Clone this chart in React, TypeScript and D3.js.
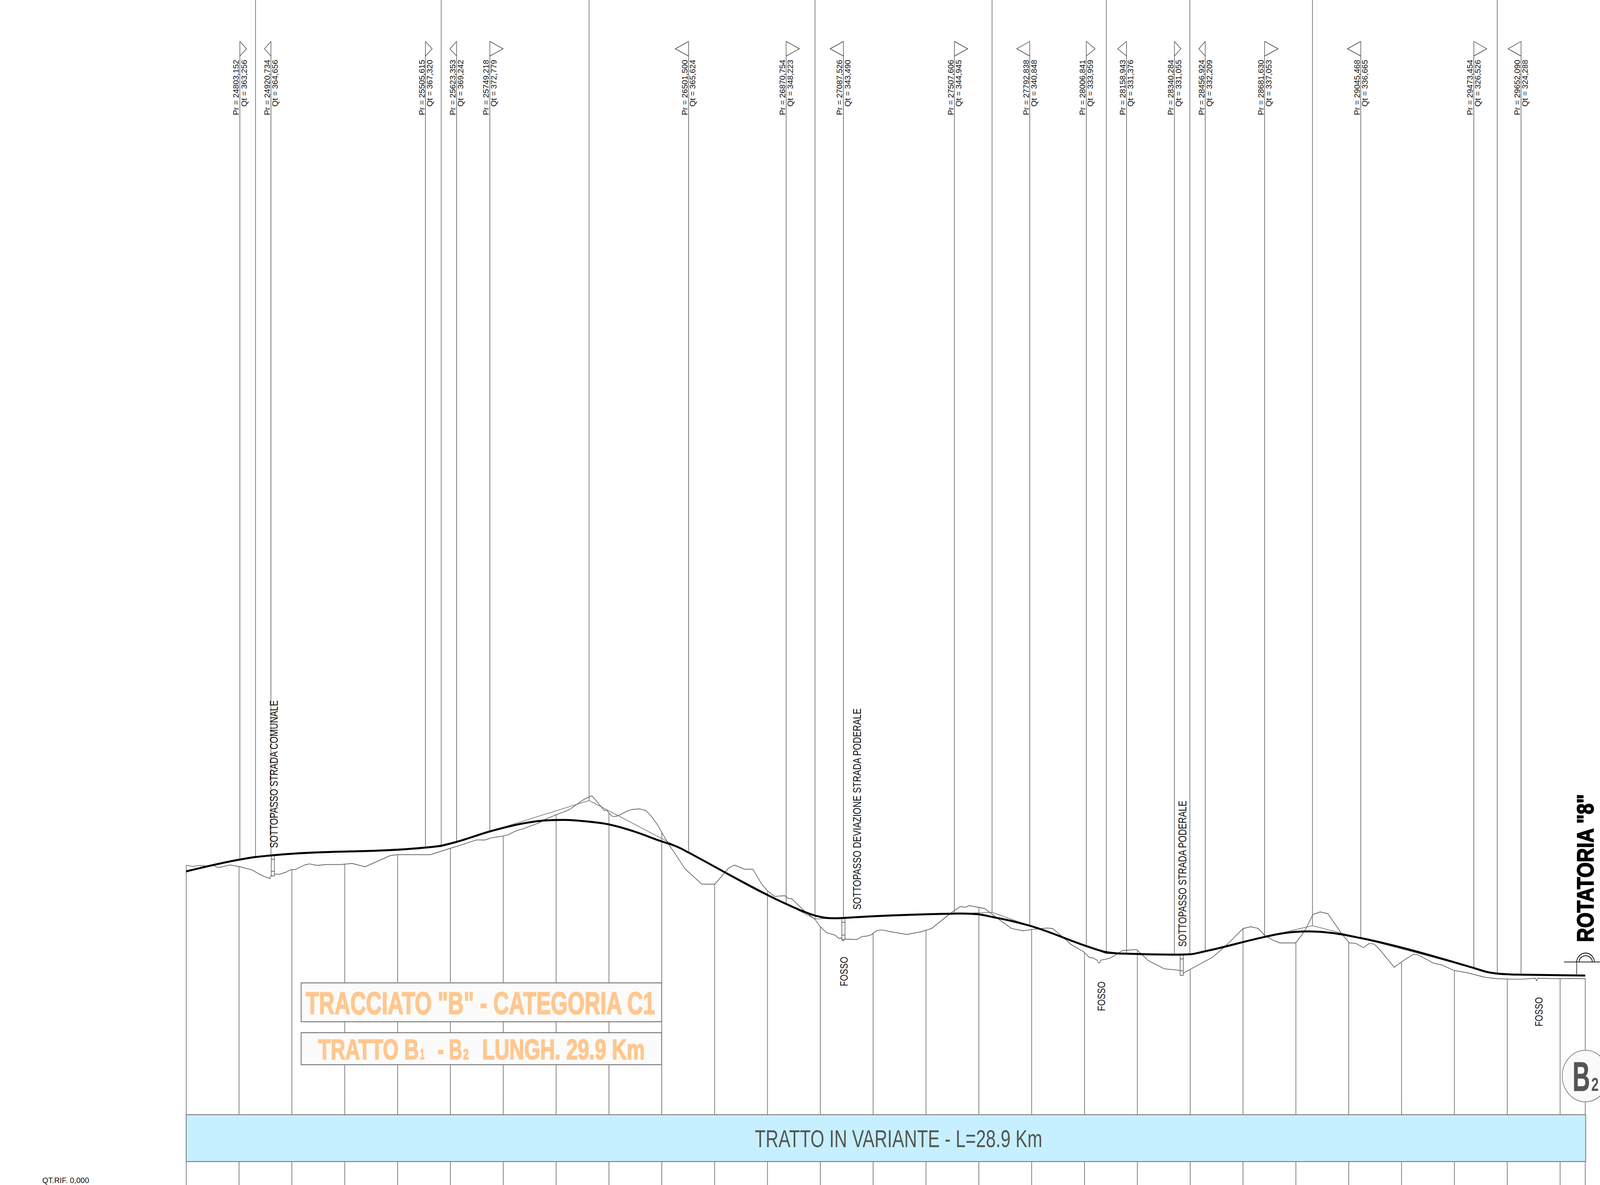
import React from "react";
import * as d3 from "d3";

const W = 4580, H = 3034;

const labelPr = [24803.152, 24920.734, 25505.615, 25623.353, 25749.218, 26501.5, 26870.754, 27087.526, 27507.606, 27792.838, 28006.841, 28158.943, 28340.284, 28456.924, 28681.63, 29045.468, 29473.454, 29652.09];
const labelQt = [363.256, 364.656, 367.32, 369.242, 372.779, 365.624, 348.223, 343.49, 344.945, 340.848, 333.959, 331.376, 331.055, 332.209, 337.053, 336.665, 326.526, 324.288];
const triangleDepth = [19, 18.5, 19, 19, 38, 38, 38, 38, 38, 37.5, 25, 25, 18.5, 18.5, 38.5, 38, 37, 37];

// Intersection points of the tangents
const pviPr = [24862.5, 25565.2, 26125, 26980, 27650, 28082.7, 28398.7, 28862.8, 29562.2];
const pviQt = [364.28, 367.58, 383.25, 343.12, 345.37, 331.36, 330.96, 340.88, 324.4];

// Design line (thick)
const designPr = [24600, 24803.152, 24862.5, 24920.734, 25505.615, 25565, 25623.353, 25749.218, 25878.6, 25962.9, 26030.4, 26114.7, 26199, 26300.2, 26384.6, 26468.9, 26501.5, 26870.754, 26932.7, 26979.7, 27033.9, 27067.6, 27087.526, 27507.606, 27538.1, 27597.1, 27656.2, 27723.6, 27792.838, 28006.841, 28044.1, 28077.8, 28120, 28158.943, 28340.284, 28398.3, 28456.924, 28681.63, 28741.5, 28796.2, 28850.8, 28905.5, 28969.2, 29045.468, 29473.454, 29524.7, 29562.9, 29615.7, 29652.09, 29895.3];
const designQt = [359.25, 363.256, 364.1, 364.656, 367.32, 367.95, 369.242, 372.779, 375.56, 376.52, 376.67, 376.17, 375.16, 372.63, 369.85, 367.16, 365.624, 348.223, 345.8, 344.29, 343.43, 343.38, 343.49, 344.945, 344.98, 344.73, 343.72, 342.46, 340.848, 333.959, 332.84, 331.98, 331.53, 331.376, 331.055, 331.17, 332.209, 337.053, 338.15, 338.74, 338.92, 338.68, 337.97, 336.665, 326.526, 325.16, 324.63, 324.35, 324.288, 323.98];

// Ground profile
const terrainPr = [24600, 24623.9, 24653.4, 24682.9, 24708.2, 24713.3, 24727.6, 24765.5, 24801, 24847.3, 24876.9, 24898, 24917.3, 24922.4, 24933.4, 24952.8, 24978, 24996.6, 25011.8, 25049.7, 25066.6, 25096.1, 25129.8, 25184.6, 25228.5, 25277.4, 25372.7, 25399.7, 25524.5, 25600.4, 25627.4, 25699.1, 25730.3, 25754, 25800.3, 25818.8, 25842.4, 25878.6, 25912.3, 25937.6, 25954.5, 26000.9, 26043, 26051.5, 26076.8, 26108, 26135.8, 26165.3, 26180.5, 26192.3, 26203.3, 26214.2, 26228.6, 26245.4, 26266.5, 26287.6, 26317.1, 26331.5, 26339.9, 26363.5, 26384.6, 26399.8, 26426.7, 26452, 26488.3, 26551.6, 26601.3, 26641.8, 26652.8, 26675.5, 26713.5, 26744.7, 26778.4, 26800.3, 26827.3, 26865.3, 26877.9, 26892.3, 26942.8, 26979.7, 27000.2, 27023.8, 27055, 27070.2, 27080.3, 27086.2, 27090.4, 27128.4, 27139.3, 27158.7, 27177.3, 27194.1, 27200.8, 27213.4, 27226.1, 27238.7, 27259.8, 27327.3, 27379.6, 27421.7, 27491.7, 27529.7, 27550.8, 27563.4, 27622.4, 27668.8, 27723.6, 27768.3, 27799.5, 27858.6, 27879.7, 27926, 27947.1, 27997.7, 28018.8, 28031.5, 28048.3, 28052.5, 28058.4, 28061, 28094.7, 28120, 28143.6, 28197.6, 28239.7, 28301.3, 28362.9, 28374.7, 28484.3, 28523, 28541.2, 28600.4, 28629.5, 28657.8, 28682.4, 28709.7, 28739.7, 28798.9, 28823.5, 28839.9, 28864.5, 28891.8, 28920.9, 28975.6, 29002.9, 29026.6, 29055.7, 29078.5, 29096.7, 29119.4, 29172.3, 29201.4, 29242.4, 29260.6, 29319.8, 29353.5, 29397.2, 29451.8, 29515.6, 29561.1, 29599.3, 29652.2, 29706.8, 29711.3, 29715.9, 29797.9, 29843.4, 29895.3];
const terrainQt = [361.32, 360.92, 361.27, 361.02, 361.22, 360.71, 360.61, 361.42, 360.87, 359.8, 358.34, 357.42, 356.87, 358.08, 358.34, 358.28, 358.99, 359.85, 359.85, 361.47, 361.78, 361.27, 361.57, 361.57, 361.93, 360.81, 364.61, 364.91, 364.91, 367.09, 367.8, 369.92, 369.87, 370.58, 371.24, 371.64, 372.76, 373.79, 374.9, 375.77, 376.68, 378.45, 379.91, 380.22, 381.84, 383.76, 384.87, 381.74, 379.97, 379.86, 378.7, 377.79, 377.94, 378.55, 379.56, 380.22, 380.42, 380.01, 379.91, 377.59, 374.9, 372.48, 368.33, 365.04, 360.08, 354.92, 354.92, 359.22, 360.38, 361.39, 359.98, 359.98, 354.92, 352.64, 350.77, 351.02, 350.11, 349.96, 345.56, 343.03, 340.5, 338.47, 337.71, 336.55, 336.7, 335.69, 336.35, 336.2, 336.2, 337.21, 337.36, 337.82, 338.41, 339.17, 339.37, 339.37, 338.92, 337.9, 338.76, 339.93, 344.99, 347.31, 347.11, 347.67, 346.66, 343.47, 339.93, 339.12, 339.57, 340.08, 339.88, 336.38, 334.61, 331.98, 330.06, 329.96, 329.15, 328.29, 328.29, 329.15, 329.81, 331.07, 332.44, 332.79, 329.15, 326.27, 325.71, 324.85, 330.16, 333.13, 334.61, 339.92, 340.51, 339.92, 337.56, 336.08, 335.02, 335.02, 337.85, 340.21, 344.64, 345.53, 344.94, 337.85, 335.02, 334.9, 333.43, 334.9, 334.61, 332.54, 326.76, 328.7, 331.07, 331.07, 328.23, 327.52, 325.75, 324.87, 323.39, 322.92, 322.8, 322.74, 323.09, 322.21, 323.09, 322.92, 322.98, 322.92];

const gridStart = 24600, gridStep = 200, gridCount = 27, endPr = 29895.3;

// Structures: progressive, invert levels
const structurePr = [24928, 27087.5, 28368];
const structureTop = [364.8, 343.45, 331.05];
const structureBottom = [357.7, 336.1, 324.0];
const structureLabels = ["SOTTOPASSO STRADA COMUNALE", "SOTTOPASSO DEVIAZIONE STRADA PODERALE", "SOTTOPASSO STRADA PODERALE"];
const fossoLabels = ["FOSSO", "FOSSO", "FOSSO"];

const x = d3.scaleLinear().domain([24600, 29900]).range([533, 533 + 5300 * 0.7563]);
const y = d3.scaleLinear().domain([367.32, 324.288]).range([2170, 2495.4]);
const fmt = (v: number) => v.toFixed(3).replace(".", ",");

const FONT = "'Liberation Sans', Arial, sans-serif";
const GREY = "#666";
const ORANGE = "#FFC78F";

function VText({ px, py, len, size, children, fill = "#111", weight, stroke, sw }: any) {
  return (
    <text transform={`translate(${px},${py}) rotate(-90)`} fontFamily={FONT} fontSize={size} fontWeight={weight}
      fill={fill} stroke={stroke} strokeWidth={sw} textLength={len} lengthAdjust="spacingAndGlyphs">{children}</text>
  );
}

function Title({ px, py, len, size, children }: any) {
  return (
    <text x={px} y={py} fontFamily={FONT} fontSize={size} fontWeight={700} fill={ORANGE} stroke={ORANGE} strokeWidth={2.5}
      textLength={len} lengthAdjust="spacingAndGlyphs">{children}</text>
  );
}

export default function App() {
  const terrainY = (p: number) => {
    const i = Math.min(d3.bisectLeft(terrainPr, p), terrainPr.length - 1);
    if (i === 0) return terrainQt[0];
    const t = (p - terrainPr[i - 1]) / (terrainPr[i] - terrainPr[i - 1]);
    return terrainQt[i - 1] + Math.min(1, t) * (terrainQt[i] - terrainQt[i - 1]);
  };
  const gridPr = [...d3.range(gridCount).map(k => gridStart + k * gridStep), endPr];
  const line = d3.line<[number, number]>().x(d => x(d[0])).y(d => y(d[1]));
  const terrainPath = line(terrainPr.map((p, i) => [p, terrainQt[i]]))!;
  const designPath = d3.line<[number, number]>().x(d => x(d[0])).y(d => y(d[1])).curve(d3.curveMonotoneX)(designPr.map((p, i) => [p, designQt[i]]))!;
  const tangentPts = d3.zip(
    [...labelPr, ...pviPr], [...labelQt, ...pviQt]
  ).map(d => d as [number, number]).sort((a, b) => a[0] - b[0]);
  const tangentPath = line(tangentPts)!;

  return (
    <svg width={window.innerWidth} height={window.innerHeight} viewBox={`0 0 ${W} ${H}`} preserveAspectRatio="none"
      style={{ position: "absolute", left: 0, top: 0, background: "#fff", display: "block" }}>
      {/* ground grid lines */}
      {gridPr.map((p, i) => (
        <line key={i} x1={x(p)} x2={x(p)} y1={y(terrainY(p))} y2={H} stroke={GREY} strokeWidth={1.8} />
      ))}
      {/* tall PVI lines */}
      {pviPr.map((p, i) => (
        <line key={i} x1={x(p)} x2={x(p)} y1={0} y2={y(pviQt[i])} stroke={GREY} strokeWidth={1.8} />
      ))}
      {/* tangent-point lines, triangles and labels */}
      {labelPr.map((p, i) => {
        const px = x(p);
        const dir = i % 2 === 0 ? 1 : -1;
        return (
          <g key={i}>
            <line x1={px} x2={px} y1={106} y2={y(labelQt[i])} stroke="#555" strokeWidth={1.7} />
            <path d={`M${px},106 L${px + dir * triangleDepth[i]},125 L${px},143.5`} fill="none" stroke="#333" strokeWidth={1.4} />
            <VText px={px - 3} py={295} len={142} size={23}>{`Pr = ${fmt(p)}`}</VText>
            <VText px={px + 19.5} py={273} len={120} size={23}>{`Qt = ${fmt(labelQt[i])}`}</VText>
          </g>
        );
      })}
      <path d={tangentPath} fill="none" stroke={GREY} strokeWidth={1.5} />
      <path d={terrainPath} fill="none" stroke={GREY} strokeWidth={1.9} />
      {/* structures */}
      {structurePr.map((p, i) => {
        const a = y(structureTop[i]), b = y(structureBottom[i]);
        return (
          <g key={i} fill="none" stroke="#555" strokeWidth={1.7}>
            <rect x={x(p) - 4.5} y={a} width={9} height={b - a} fill="#fff" />
            <line x1={x(p) - 4.5} x2={x(p) + 4.5} y1={a + 11} y2={a + 11} />
            <line x1={x(p) - 4.5} x2={x(p) + 4.5} y1={b - 12} y2={b - 12} />
          </g>
        );
      })}
      <path d={designPath} fill="none" stroke="#000" strokeWidth={5} />

      <VText px={794.5} py={2171} len={378} size={33}>{structureLabels[0]}</VText>
      <VText px={2464} py={2329} len={515} size={33}>{structureLabels[1]}</VText>
      <VText px={3396} py={2424} len={374} size={33}>{structureLabels[2]}</VText>
      <VText px={2426.5} py={2525} len={75.5} size={31}>{fossoLabels[0]}</VText>
      <VText px={3163} py={2588.5} len={75.5} size={31}>{fossoLabels[1]}</VText>
      <VText px={4415.5} py={2628} len={75} size={31}>{fossoLabels[2]}</VText>
      <VText px={4560.5} py={2412} len={379} size={66} weight={700} fill="#000" stroke="#000" sw={2.5}>{'ROTATORIA "8"'}</VText>

      {/* roundabout symbol */}
      <line x1={4476.7} x2={W} y1={2463} y2={2463} stroke="#222" strokeWidth={1.8} />
      <line x1={4513.3} x2={4513.3} y1={2463} y2={2497} stroke="#222" strokeWidth={1.8} />
      <path d="M4513.3,2463 A25.4,24.5 0 0 1 4564,2463" fill="none" stroke="#111" strokeWidth={2.2} />
      <path d="M4520,2463 A19,16 0 0 1 4558,2463" fill="none" stroke="#111" strokeWidth={2.2} />

      {/* title boxes */}
      <rect x={862} y={2516.5} width={1032} height={99.5} fill="#fbfbfb" stroke="#777" strokeWidth={2.4} />
      <Title px={875} py={2596} len={1000} size={80}>{'TRACCIATO "B" - CATEGORIA C1'}</Title>
      <rect x={862} y={2644} width={1032} height={82} fill="#fbfbfb" stroke="#777" strokeWidth={2.4} />
      <Title px={911} py={2712.5} len={288} size={73}>TRATTO B</Title>
      <Title px={1203} py={2712.5} len={12} size={37}>1</Title>
      <Title px={1253} py={2712.5} len={70} size={73}>- B</Title>
      <Title px={1326} py={2712.5} len={16} size={37}>2</Title>
      <Title px={1380} py={2712.5} len={466} size={73}>LUNGH. 29.9 Km</Title>

      {/* band */}
      <rect x={533} y={2854} width={4006} height={120} fill="#C6F0FF" stroke="#808080" strokeWidth={2.4} />
      <text x={2160.5} y={2936.7} fontFamily={FONT} fontSize={63} fill="#555" textLength={823} lengthAdjust="spacingAndGlyphs">TRATTO IN VARIANTE - L=28.9 Km</text>

      <text x={121} y={3029} fontFamily={FONT} fontSize={21} fill="#111" textLength={134} lengthAdjust="spacingAndGlyphs">QT.RIF. 0,000</text>

      {/* B2 bubble */}
      <circle cx={4538} cy={2755} r={66} fill="#fafafa" stroke="#888" strokeWidth={2.2} />
      <text x={4501.5} y={2793.5} fontFamily={FONT} fontSize={106} fontWeight={700} fill="#555" stroke="#555" strokeWidth={1} textLength={50} lengthAdjust="spacingAndGlyphs">B</text>
      <text x={4555} y={2793.5} fontFamily={FONT} fontSize={48} fontWeight={700} fill="#555" textLength={21} lengthAdjust="spacingAndGlyphs">2</text>
    </svg>
  );
}
